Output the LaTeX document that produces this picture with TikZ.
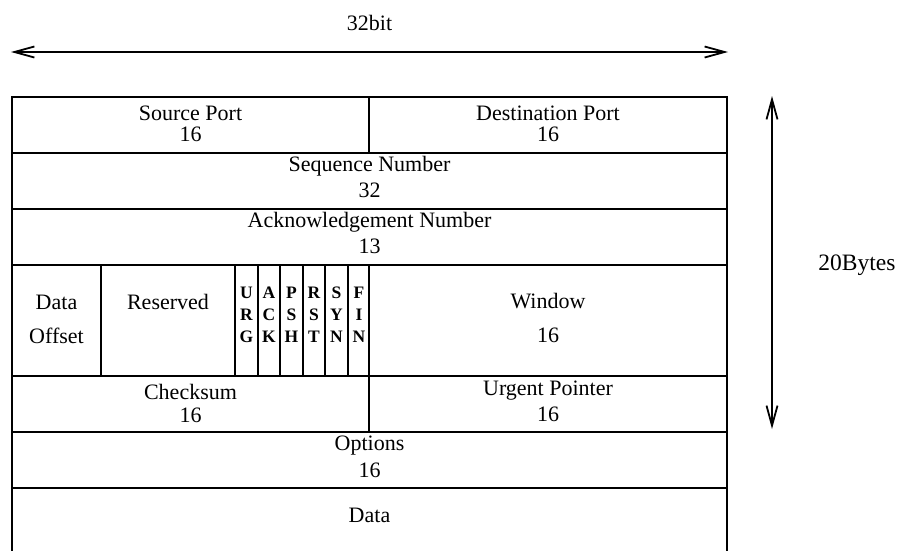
\documentclass[tikz,border=0pt]{standalone}
\usepackage{fontspec}
\setmainfont{Liberation Serif}
\usetikzlibrary{arrows.meta}
\begin{document}
\begin{tikzpicture}[x=1pt,y=-1pt,
  grid/.style={line width=1.8pt},
  dimline/.style={line width=1.8pt, {Straight Barb[length=20pt,width=11pt]}-{Straight Barb[length=20pt,width=11pt]}},
  lbl/.style={anchor=base, inner sep=0pt, font=\fontsize{22}{26}\selectfont},
  flag/.style={anchor=base, inner sep=0pt, font=\fontsize{17.5}{20}\selectfont\bfseries}]
\useasboundingbox (0,0) rectangle (899,550);
\clip (0,0) rectangle (899,550);

% table frame and rows
\draw[grid] (12,560) -- (12,97) -- (727,97) -- (727,560);
\foreach \yy in {153,209,265,376,432,488}
  \draw[grid] (12,\yy) -- (727,\yy);
\draw[grid] (369,97) -- (369,153);
\draw[grid] (369,376) -- (369,432);
\foreach \xx in {101,235,258,280,303,325,348,369}
  \draw[grid] (\xx,265) -- (\xx,376);

% dimension arrows
\coordinate (hl) at (11,52);
\coordinate (hr) at (728,52);
\coordinate (vt) at (772,96);
\coordinate (vb) at (772,429);
\draw[dimline] (hl) -- (hr);
\draw[dimline] (vt) -- (vb);
\node[lbl] (bits) at (369.5,30) {32bit};
\node[lbl, font=\fontsize{23.5}{26}\selectfont] (bytes) at (857,270) {20Bytes};

% row 1
\node[lbl] (sp) at (190.5,120) {Source Port};
\node[lbl] (spn) at (190.5,141) {16};
\node[lbl] (dp) at (548,120) {Destination Port};
\node[lbl] (dpn) at (548,141) {16};
% row 2
\node[lbl] (seq) at (369.5,171) {Sequence Number};
\node[lbl] (seqn) at (369.5,197) {32};
% row 3
\node[lbl] (ack) at (369.5,227) {Acknowledgement Number};
\node[lbl] (ackn) at (369.5,253) {13};
% row 4
\node[lbl] (do1) at (56.5,309) {Data};
\node[lbl] (do2) at (56.5,343) {Offset};
\node[lbl] (res) at (168,309) {Reserved};
\node[lbl] (win) at (548,308) {Window};
\node[lbl] (winn) at (548,342) {16};
\foreach \cx/\a/\b/\c/\nm in {246.5/U/R/G/urg, 269/A/C/K/ack, 291.5/P/S/H/psh, 314/R/S/T/rst, 336.5/S/Y/N/syn, 359/F/I/N/fin}{
  \node[flag] (\nm1) at (\cx,298) {\a};
  \node[flag] (\nm2) at (\cx,320) {\b};
  \node[flag] (\nm3) at (\cx,342) {\c};
}
% row 5
\node[lbl] (chk) at (190.5,399) {Checksum};
\node[lbl] (chkn) at (190.5,422) {16};
\node[lbl] (urg) at (548,395) {Urgent Pointer};
\node[lbl] (urgn) at (548,421) {16};
% row 6
\node[lbl] (opt) at (369.5,450) {Options};
\node[lbl] (optn) at (369.5,477) {16};
% row 7
\node[lbl] (data) at (369.5,522) {Data};
\end{tikzpicture}
\end{document}
